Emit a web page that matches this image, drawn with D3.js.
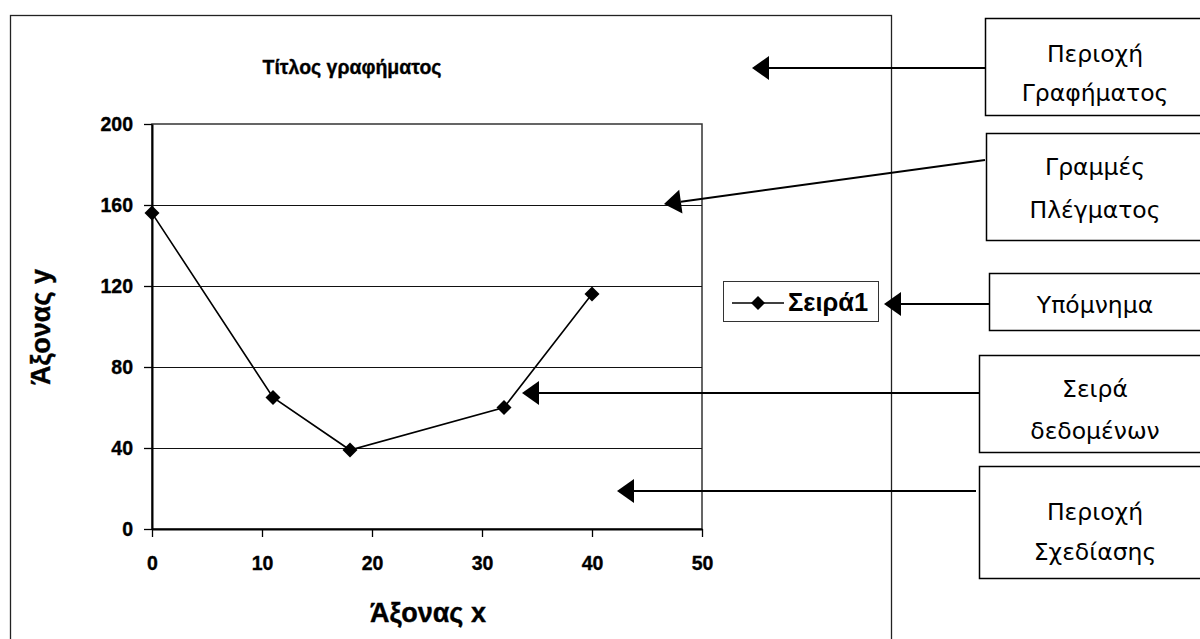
<!DOCTYPE html>
<html><head><meta charset="utf-8">
<script src="https://cdn.jsdelivr.net/npm/d3@7"></script>
<style>body{margin:0;background:#fff}svg{display:block}</style>
</head><body>
<svg id="c" width="1200" height="639"></svg>
<script>
const xValues = [0, 11, 18, 32, 40];
const yValues = [156, 65, 39, 60, 116];
const xTicks = [0, 10, 20, 30, 40, 50];
const yTicks = [0, 40, 80, 120, 160, 200];
const seriesName = "Σειρά1";
const chartTitle = "Τίτλος γραφήματος";
const xTitle = "Άξονας x";
const yTitle = "Άξονας y";
const calloutLines = [["Περιοχή","Γραφήματος"],["Γραμμές","Πλέγματος"],["Υπόμνημα"],["Σειρά","δεδομένων"],["Περιοχή","Σχεδίασης"]];

const svg = d3.select("#c");
const bold = "'Liberation Sans', Arial, sans-serif";
const x = d3.scaleLinear().domain([0, 50]).range([152, 702]);
const y = d3.scaleLinear().domain([0, 200]).range([529, 124]);

// chart area frame
svg.append("rect").attr("x", 10.5).attr("y", 15.5).attr("width", 881).attr("height", 640)
  .attr("fill", "#fff").attr("stroke", "#222").attr("stroke-width", 1.3);

// title
svg.append("text").attr("x", 352).attr("y", 74).attr("text-anchor", "middle")
  .attr("font-family", bold).attr("font-weight", "bold").attr("font-size", 19.5)
  .attr("stroke", "#000").attr("stroke-width", 0.35).text(chartTitle);

// plot area border
svg.append("rect").attr("x", x(0)).attr("y", y(200)).attr("width", x(50) - x(0)).attr("height", y(0) - y(200))
  .attr("fill", "#fff").attr("stroke", "#333").attr("stroke-width", 1.5);

// gridlines
svg.append("g").selectAll("line").data(yTicks.filter(d => d > 0 && d < 200)).join("line")
  .attr("x1", x(0)).attr("x2", x(50)).attr("y1", d => y(d) + 0.5).attr("y2", d => y(d) + 0.5)
  .attr("stroke", "#111").attr("stroke-width", 1);

// axes
const ya = svg.append("g").attr("transform", `translate(${x(0)},0)`)
  .call(d3.axisLeft(y).tickValues(yTicks).tickSize(8).tickPadding(11).tickSizeOuter(0));
const xa = svg.append("g").attr("transform", `translate(0,${y(0)})`)
  .call(d3.axisBottom(x).tickValues(xTicks).tickSize(8).tickPadding(19).tickSizeOuter(0));
[ya, xa].forEach(g => {
  g.select(".domain").attr("stroke", "#000").attr("stroke-width", 2);
  g.selectAll(".tick line").attr("stroke", "#000").attr("stroke-width", 1.3);
  g.selectAll("text").attr("font-family", bold).attr("font-weight", "bold").attr("font-size", 19.5)
    .attr("fill", "#000").attr("stroke", "#000").attr("stroke-width", 0.35);
});

// axis titles
svg.append("text").attr("x", 428).attr("y", 622).attr("text-anchor", "middle")
  .attr("font-family", bold).attr("font-weight", "bold").attr("font-size", 27)
  .attr("stroke", "#000").attr("stroke-width", 0.4).text(xTitle);
svg.append("text").attr("transform", "translate(50,327) rotate(-90)").attr("text-anchor", "middle")
  .attr("font-family", bold).attr("font-weight", "bold").attr("font-size", 27)
  .attr("stroke", "#000").attr("stroke-width", 0.4).text(yTitle);

// series
const pts = xValues.map((v, i) => [v, yValues[i]]);
svg.append("path").datum(pts).attr("fill", "none").attr("stroke", "#000").attr("stroke-width", 1.6)
  .attr("d", d3.line().x(d => x(d[0])).y(d => y(d[1])));
const diamond = (cx, cy, r) => `M${cx},${cy - r}L${cx + r},${cy}L${cx},${cy + r}L${cx - r},${cy}Z`;
svg.append("g").selectAll("path").data(pts).join("path")
  .attr("d", d => diamond(x(d[0]), y(d[1]), 7.5)).attr("fill", "#000");

// legend
svg.append("rect").attr("x", 723.5).attr("y", 281.5).attr("width", 155).attr("height", 40)
  .attr("fill", "#fff").attr("stroke", "#333").attr("stroke-width", 1);
svg.append("line").attr("x1", 732).attr("x2", 784).attr("y1", 303).attr("y2", 303).attr("stroke", "#000").attr("stroke-width", 1.6);
svg.append("path").attr("d", diamond(758, 303, 7)).attr("fill", "#000");
svg.append("text").attr("x", 788).attr("y", 311).attr("font-family", bold).attr("font-weight", "bold")
  .attr("font-size", 25.5).text(seriesName);

// callouts
const boxes = [
  {x: 985, y1: 18, y2: 115, ly: [62, 101], from: [985, 68], tip: [752, 68]},
  {x: 986, y1: 133, y2: 240, ly: [175, 218], from: [985, 160], tip: [664, 204]},
  {x: 989, y1: 273, y2: 330, ly: [313], from: [989, 304], tip: [884, 304]},
  {x: 979, y1: 355, y2: 452, ly: [397, 439], from: [979, 393], tip: [522, 393]},
  {x: 979, y1: 466, y2: 578, ly: [520, 560], from: [976, 491], tip: [617, 491]}
];
const cg = svg.append("g");
boxes.forEach((b, i) => {
  cg.append("rect").attr("x", b.x + 0.5).attr("y", b.y1 + 0.5).attr("width", 260).attr("height", b.y2 - b.y1)
    .attr("fill", "#fff").attr("stroke", "#000").attr("stroke-width", 1.5);
  calloutLines[i].forEach((t, j) => {
    cg.append("text").attr("x", 1095).attr("y", b.ly[j]).attr("text-anchor", "middle")
      .attr("font-family", "'DejaVu Sans', Verdana, sans-serif").attr("font-size", 23.5).text(t);
  });
  const [fx, fy] = b.from, [tx, ty] = b.tip;
  const ang = Math.atan2(fy - ty, fx - tx);
  const L = 17, H = 12;
  const bx = tx + L * Math.cos(ang), by = ty + L * Math.sin(ang);
  cg.append("line").attr("x1", fx).attr("y1", fy).attr("x2", bx).attr("y2", by).attr("stroke", "#000").attr("stroke-width", 2);
  const px = -Math.sin(ang) * H, py = Math.cos(ang) * H;
  cg.append("path").attr("d", `M${tx},${ty}L${bx + px},${by + py}L${bx - px},${by - py}Z`).attr("fill", "#000");
});
</script>
</body></html>
